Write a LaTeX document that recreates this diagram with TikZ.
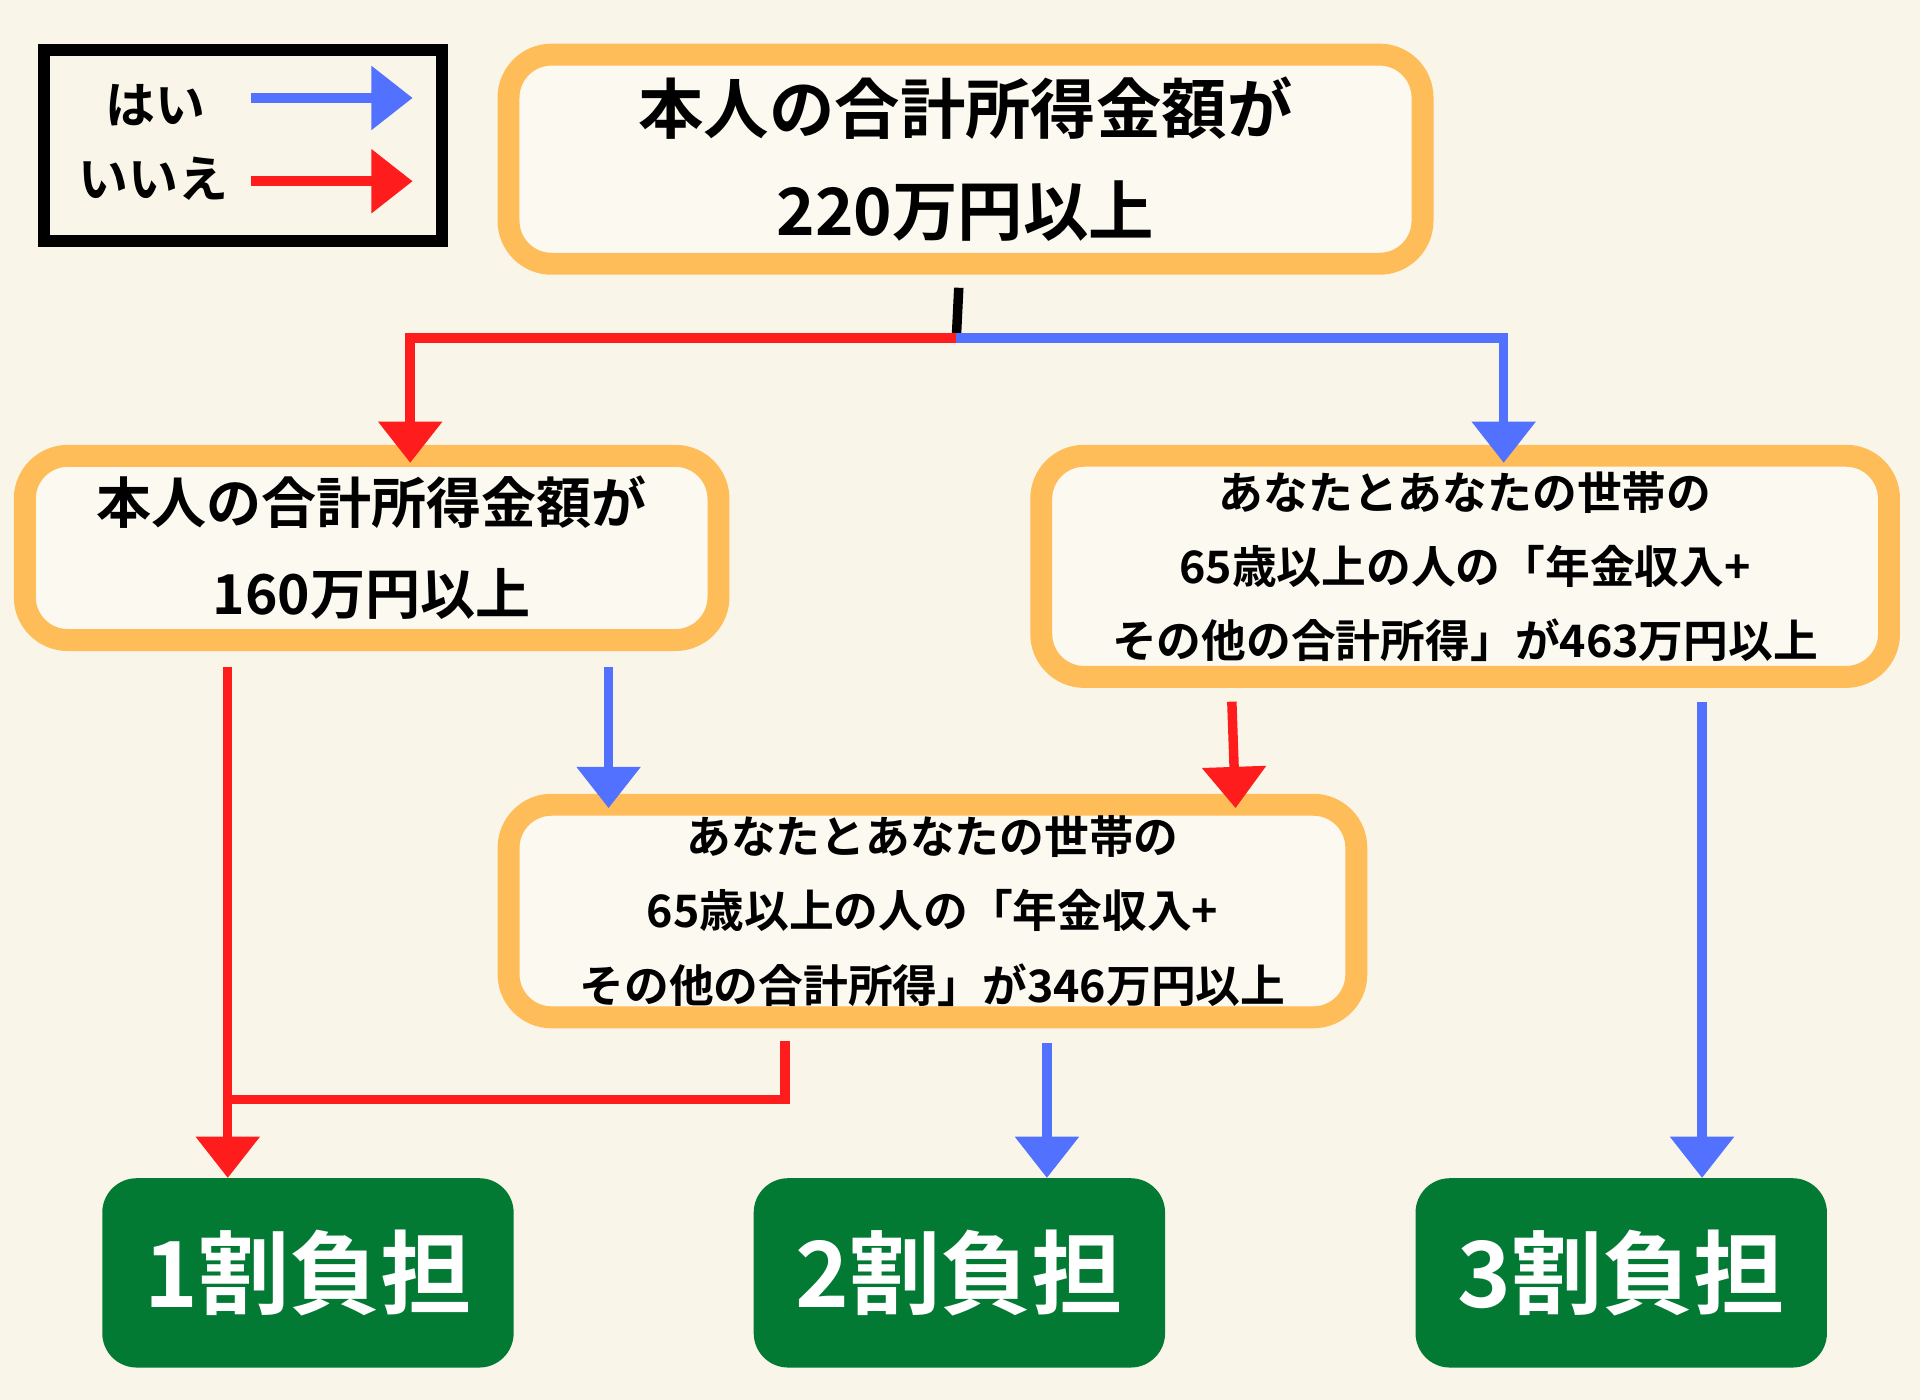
\documentclass[tikz,border=0pt]{standalone}
\usepackage{fontspec}
\setmainfont{Noto Sans CJK JP}[BoldFont={* Bold}]
\usetikzlibrary{arrows.meta}
\definecolor{bg}{HTML}{F9F6E9}
\definecolor{org}{HTML}{FFBD59}
\definecolor{rd}{HTML}{FF1C1C}
\definecolor{bl}{HTML}{5271FF}
\definecolor{gr}{HTML}{037A33}
\definecolor{inner}{HTML}{FBF9F0}
\begin{document}
\begin{tikzpicture}[x=0.05cm,y=-0.05cm,
  obox/.style={draw=org,line width=25.5pt,fill=inner,rounded corners=50pt,align=center,inner sep=0pt,font=\bfseries},
  gbox/.style={fill=gr,rounded corners=40pt,text=white,font=\bfseries\fontsize{106}{110}\selectfont,inner sep=0pt,minimum width=478pt,minimum height=220pt},
  conn/.style={line width=11pt},
  arr/.style={conn,-{Triangle[width=72pt,length=48pt]}},
  redl/.style={draw=rd},
  bluel/.style={draw=bl}]
\fill[bg] (0,0) rectangle (1568,1143);
\useasboundingbox (0,0) rectangle (1568,1143);
% legend
\node[draw=black,line width=14pt,minimum width=463pt,minimum height=222pt,inner sep=0pt] (leg) at (198.5,118.5) {};
\node[font=\bfseries\fontsize{58}{60}\selectfont] (yes) at (127,86) {はい};
\node[font=\bfseries\fontsize{58}{60}\selectfont] (no) at (125,146) {いいえ};
\coordinate (ys) at (205,80); \coordinate (ye) at (337,80);
\coordinate (ns) at (205,148); \coordinate (ne) at (337,148);
\draw[arr,bluel] (ys) -- (ye);
\draw[arr,redl] (ns) -- (ne);
% boxes
\node[obox,minimum width=1062pt,minimum height=243pt,font=\bfseries\fontsize{76}{118}\selectfont] (b1) at (788.5,130) {本人の合計所得金額が\\220万円以上};
\node[obox,minimum width=806pt,minimum height=214pt,font=\bfseries\fontsize{64}{106}\selectfont] (b2) at (303.5,447.5) {本人の合計所得金額が\\160万円以上};
\node[obox,minimum width=985pt,minimum height=257pt,font=\bfseries\fontsize{52}{86}\selectfont] (b3) at (1196.5,462.5) {あなたとあなたの世帯の\\65歳以上の人の「年金収入+\\その他の合計所得」が463万円以上};
\node[obox,minimum width=985pt,minimum height=247pt,font=\bfseries\fontsize{52}{86}\selectfont] (b4) at (761.5,744) {あなたとあなたの世帯の\\65歳以上の人の「年金収入+\\その他の合計所得」が346万円以上};
\node[gbox] (g1) at (251.5,1039.5) {1割負担};
\node[gbox] (g2) at (783.5,1039.5) {2割負担};
\node[gbox] (g3) at (1324,1039.5) {3割負担};
% connectors
\coordinate (s1) at (783,235); \coordinate (j1) at (781,276);
\coordinate (rl) at (335,276); \coordinate (bl1) at (1228,276);
\draw[conn,draw=black] (s1) -- (j1);
\draw[arr,redl] (j1) -- (rl) -- (335,378);
\draw[arr,bluel] (j1) -- (bl1) -- (1228,378);
\coordinate (r2) at (186,545); \draw[arr,redl] (r2) -- (186,962);
\coordinate (b2s) at (497,545); \draw[arr,bluel] (b2s) -- (497,660);
\coordinate (r3) at (1006,573); \draw[arr,redl] (r3) -- (1009,660);
\coordinate (b3s) at (1390,573); \draw[arr,bluel] (b3s) -- (1390,962);
\coordinate (r4) at (641,850); \coordinate (r4j) at (186,898);
\draw[conn,redl] (r4) -- (641,898) -- (r4j);
\coordinate (b4s) at (855,852); \draw[arr,bluel] (b4s) -- (855,962);
\end{tikzpicture}
\end{document}
